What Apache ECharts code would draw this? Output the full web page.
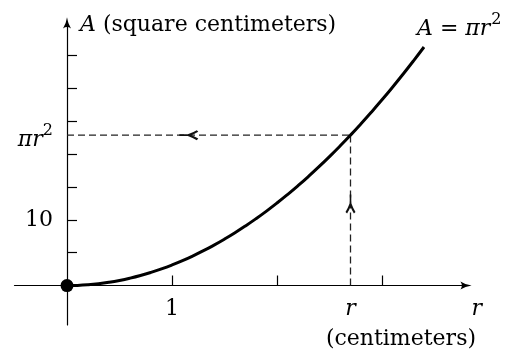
<!DOCTYPE html>
<html>
<head>
<meta charset="utf-8">
<script src="https://cdn.jsdelivr.net/npm/echarts@6/dist/echarts.min.js"></script>
<style>
  html, body { margin: 0; padding: 0; background: #fff; }
  #chart { width: 514px; height: 353px; }
</style>
</head>
<body>
<div id="chart"></div>
<script>
// Radius samples (cm) and the area of the circle for each, A = πr² (cm²)
const radii = [0, 0.1, 0.2, 0.3, 0.4, 0.5, 0.6, 0.7, 0.8, 0.9, 1.0, 1.1, 1.2, 1.3, 1.4, 1.5, 1.6,
  1.7, 1.8, 1.9, 2.0, 2.1, 2.2, 2.3, 2.4, 2.5, 2.6, 2.7, 2.8, 2.9, 3.0, 3.1, 3.2, 3.3, 3.4];
const areas = [0, 0.031, 0.126, 0.283, 0.503, 0.785, 1.131, 1.539, 2.011, 2.545, 3.142, 3.801,
  4.524, 5.309, 6.158, 7.069, 8.042, 9.079, 10.179, 11.341, 12.566, 13.854, 15.205, 16.619,
  18.096, 19.635, 21.237, 22.902, 24.630, 26.421, 28.274, 30.191, 32.170, 34.212, 36.317];

// The marked radius r and its area πr²
const rMark = 2.7;
const areaMark = 22.9;

// Tick positions and labelled values on each axis
const xTicks = [1, 2, 3];
const xLabelValues = [1, rMark];
const yTicks = [5, 10, 15, 20, 25, 30, 35];
const yLabelValues = [10, areaMark];

// Where the direction arrowheads sit on the two guide lines
const hArrowR = 1.16;
const vArrowA = 12.4;

const FONT = 'DejaVu Serif';
const rich = {
  n:  { fontFamily: FONT, fontSize: 22, color: '#000', lineHeight: 22 },
  it: { fontFamily: FONT, fontSize: 22, color: '#000', lineHeight: 22, fontStyle: 'italic' },
  np: { fontFamily: FONT, fontSize: 22, color: '#000', lineHeight: 22, padding: [11, 0, 0, 0] },
  ip: { fontFamily: FONT, fontSize: 22, color: '#000', lineHeight: 22, fontStyle: 'italic', padding: [11, 0, 0, 0] },
  sp: { fontFamily: FONT, fontSize: 16, color: '#000', lineHeight: 16, padding: [0, 0, 9, 0] },
  sq: { fontFamily: FONT, fontSize: 16, color: '#000', lineHeight: 16, padding: [0, 0, 7, 1] },
  r2: { fontFamily: FONT, fontSize: 22, color: '#000', lineHeight: 30, fontStyle: 'italic' },
  u2: { fontFamily: FONT, fontSize: 22, color: '#000', lineHeight: 30, padding: [0, 6, 0, 0] }
};

const axisArrow = 'path://M5 0 Q6 8 10 14 Q5 10.5 0 14 Q4 8 5 0 Z';
const headUp = 'path://M4.2 0 L4.2 9 Q2.2 14.5 0 18.4 L1.6 20 Q4 15.5 5 12.8 Q6 15.5 8.4 20 L10 18.4 Q7.8 14.5 5.8 9 L5.8 0 Z';
const headLeft = 'path://M0 4.2 L9 4.2 Q14.5 2.2 18.4 0 L20 1.6 Q15.5 4 12.8 5 Q15.5 6 20 8.4 L18.4 10 Q14.5 7.8 9 5.8 L0 5.8 Z';

const axisLineStyle = {
  onZero: false,
  symbol: ['none', axisArrow],
  symbolSize: [8, 14],
  lineStyle: { color: '#000', width: 1.2 }
};

const chart = echarts.init(document.getElementById('chart'), null, { renderer: 'canvas' });

chart.setOption({
  animation: false,
  backgroundColor: '#fff',
  grid: { left: 14.5, right: 48, top: 22.8, bottom: 28, containLabel: false, outerBoundsMode: 'none' },
  xAxis: {
    type: 'value',
    position: 'bottom',
    offset: -39.5,          // lift the axis up to A = 0
    min: -0.5,
    max: 3.8,
    axisLine: axisLineStyle,
    splitLine: { show: false },
    axisTick: { show: true, inside: true, length: 10, customValues: xTicks,
      lineStyle: { color: '#000', width: 1.2 } },
    axisLabel: {
      customValues: xLabelValues,
      margin: 12.5,
      formatter: v => (v === rMark ? '{it|r}' : '{n|' + v + '}'),
      rich: rich
    },
    name: '{r2|r}\n{u2|(centimeters)}',
    nameLocation: 'end',
    nameGap: 16,
    nameMoveOverlap: false,
    nameTextStyle: { align: 'right', verticalAlign: 'top', padding: [8.5, 0, 0, 0], rich: rich }
  },
  yAxis: {
    type: 'value',
    position: 'left',
    offset: -52.5,          // move the axis across to r = 0
    min: -6,
    max: 40,
    axisLine: axisLineStyle,
    splitLine: { show: false },
    axisTick: { show: true, inside: true, length: 10, customValues: yTicks,
      lineStyle: { color: '#000', width: 1.2 } },
    axisLabel: {
      customValues: yLabelValues,
      margin: 14,
      formatter: v => (v === areaMark ? '{ip|πr}{sp|2}' : '{n|' + v + '}'),
      rich: rich
    },
    name: '{it|A}{n| (square centimeters)}',
    nameLocation: 'end',
    nameGap: 0,
    nameMoveOverlap: false,
    nameTextStyle: { align: 'left', verticalAlign: 'middle', padding: [4.4, 0, 0, 13], rich: rich }
  },
  series: [
    {
      name: 'horizontal guide',
      type: 'line',
      data: [[0, areaMark], [rMark, areaMark]],
      symbol: 'none',
      lineStyle: { color: '#222', width: 1.3, type: [7, 4] },
      z: 2
    },
    {
      name: 'vertical guide',
      type: 'line',
      data: [[rMark, 0], [rMark, areaMark]],
      symbol: 'none',
      lineStyle: { color: '#222', width: 1.3, type: [7, 4] },
      z: 2
    },
    {
      name: 'area',
      type: 'line',
      data: radii.map((r, i) => [r, areas[i]]),
      smooth: true,
      symbol: 'none',
      lineStyle: { color: '#000', width: 3 },
      endLabel: {
        show: true,
        distance: 0,
        align: 'left',
        verticalAlign: 'middle',
        offset: [-7, -23.5],
        formatter: '{ip|A}{np| = }{ip|πr}{sq|2}',
        rich: rich
      },
      z: 3
    },
    {
      name: 'arrowheads',
      type: 'scatter',
      data: [
        { value: [hArrowR, areaMark], symbol: headLeft, symbolSize: [19, 10] },
        { value: [rMark, vArrowA], symbol: headUp, symbolSize: [10, 19] }
      ],
      itemStyle: { color: '#111', opacity: 1 },
      z: 4
    },
    {
      name: 'origin',
      type: 'scatter',
      data: [[radii[0], areas[0]]],
      symbol: 'circle',
      symbolSize: 13,
      itemStyle: { color: '#000', opacity: 1 },
      z: 5
    }
  ]
});
</script>
</body>
</html>
